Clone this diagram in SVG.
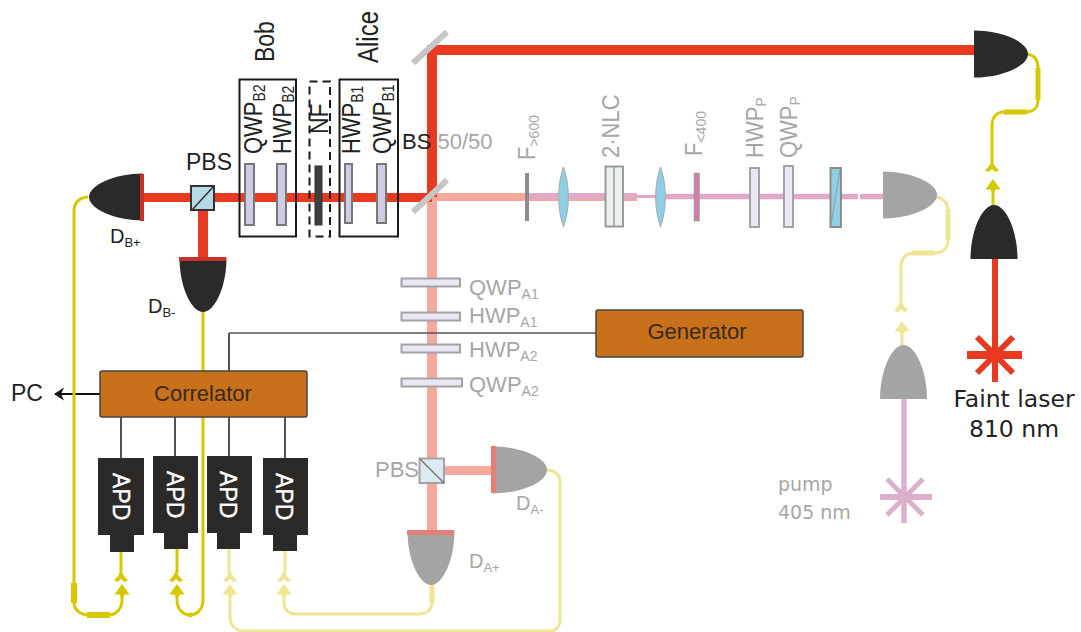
<svg xmlns="http://www.w3.org/2000/svg" width="1081" height="632" viewBox="0 0 1081 632">
<style>
text{font-family:"Liberation Sans",Arial,sans-serif;font-size:22px;fill:#222}
.g{fill:#a6a6a6}
.sub{font-size:14px}
.dv{font-family:"DejaVu Sans",Verdana,sans-serif}
.apd{fill:#fff;font-size:23px;stroke:#fff;stroke-width:.4}
.box{fill:none;stroke:#1a1a1a;stroke-width:2}
.plate{fill:#cfcce4;stroke:#777;stroke-width:2}
.pale{fill:#e9e7f4;stroke:#a3a3a3;stroke-width:2}
.blk{fill:#2b2a29}
.gry{fill:#a4a4a4}
.bar{fill:#c8701a;stroke:#444;stroke-width:1.5}
.fy,.fp{fill:none;stroke-width:3;stroke-linecap:round}
.fy{stroke:#d6c800}
.fp{stroke:#eee692}
.ty{stroke:#d6c800;stroke-width:6;fill:none}
.tp{stroke:#eee692;stroke-width:6;fill:none}
.wire{stroke:#2b2a29;stroke-width:1.6;fill:none}
.mir{stroke:#c6c6c6;stroke-width:6}
.ly{fill:#d6c800;stroke:#d6c800;stroke-width:1.200}
.lp{fill:#eee692;stroke:#eee692;stroke-width:1.200}
</style>
<defs>
<path id="det" d="M0,-23.500 C28,-23.500 54,-12 54,0 C54,12 28,23.500 0,23.500 Z"/>
<path id="chev" d="M-6,8 C-3,6 -1.500,3 0,0 C1.500,3 3,6 6,8 L3.500,9.500 L0,6 L-3.500,9.500 Z"/>
<path id="head" d="M0,0 L6.500,9 L2,9 L1.500,11 L-1.500,11 L-2,9 L-6.500,9 Z"/>
<marker id="arr" markerWidth="12" markerHeight="14" refX="9" refY="6.500" orient="auto" markerUnits="userSpaceOnUse"><path d="M0,0 L10,6.500 L0,13 L3,6.500 Z" fill="#111"/></marker>
</defs>

<g id="connectors">
<path d="M432,197V535" stroke="#f5a89c" stroke-width="10" fill="none"/>
<path d="M432,197H637" stroke="#f5a89c" stroke-width="8" fill="none"/>
<path d="M444,470.500H493" stroke="#f5a89c" stroke-width="9" fill="none"/>
<path d="M529,196H637" stroke="#e0a9c9" stroke-width="6" fill="none"/>
<path d="M637,196.500H657" stroke="#e0a9c9" stroke-width="3" fill="none"/>
<path d="M657,196.500H858M860,196.500H883" stroke="#e0a9c9" stroke-width="5.500" fill="none"/>
<path d="M904,399V523" stroke="#dcb0cc" stroke-width="5.500" fill="none"/>
<path d="M143,197.500H432" stroke="#e83a20" stroke-width="9" fill="none"/>
<path d="M203,211V258" stroke="#e83a20" stroke-width="10" fill="none"/>
<path d="M974,50H432V197" stroke="#e83a20" stroke-width="10" fill="none"/>
<path d="M995,258V382" stroke="#e83a20" stroke-width="6" fill="none"/>
<path class="wire" d="M121,417V458M175,417V456M229,417V456M285,417V458M229,371V333"/>
<path d="M229,333H596" stroke="#555" stroke-width="1.800" fill="none" opacity=".75"/>
<path d="M100,394H55" stroke="#111" stroke-width="2.200" fill="none" marker-end="url(#arr)"/>
<path class="fy" d="M87,197 C79,198 74,203 74,212 V603 C74,610 81,615 88,615 H108 C116,615 122,609 122,600 V592"/>
<path class="ty" d="M74,583V603M87,615H110"/>
<path class="fy" d="M121,552V574"/>
<use href="#chev" x="121" y="572" class="ly"/><use href="#head" x="122" y="585" class="ly"/>
<path class="fy" d="M177,549V572"/>
<use href="#chev" x="176" y="572" class="ly"/><use href="#head" x="177" y="585" class="ly"/>
<path class="fy" d="M177,592V600 C177,609 183,615 190,615 C197,615 203,609 203,600 V313"/>
<circle cx="190" cy="615" r="2.500" fill="#d6c800"/>
<path class="fp" d="M229,549V572"/>
<use href="#chev" x="230" y="572" class="lp"/><use href="#head" x="230" y="585" class="lp"/>
<path class="fp" d="M230,592V617 C230,625 236,631 243,631 H550 C556,631 560,626 560,620 V482 C560,475 555,470 547,470"/>
<path class="fp" d="M285,551V572"/>
<use href="#chev" x="284" y="572" class="lp"/><use href="#head" x="284" y="585" class="lp"/>
<path class="fp" d="M284,592V604 C284,610 289,614 296,614 H420 C427,614 432,609 432,602 V585"/>
<path class="tp" d="M432,585V603" style="stroke-width:5"/>
<path class="fy" d="M1027,54 C1034,55 1038,60 1038,68 V100 C1038,108 1033,112 1026,112 H1004 C996,112 992,118 992,126 V163"/>
<path class="ty" d="M1038,68V100M1004,112H1027" style="stroke-width:5"/>
<use href="#chev" x="992" y="162" class="ly"/><use href="#head" x="993" y="180" class="ly"/>
<path class="fy" d="M993,186V208"/>
<path class="fp" d="M936,197 C943,198 948,203 948,209 V240 C948,248 943,253 935,253 H913 C906,253 901,259 901,267 V304"/>
<path class="tp" d="M948,209V240M912,253H935" style="stroke-width:5"/>
<use href="#chev" x="901" y="302" class="lp"/><use href="#head" x="902" y="322" class="lp"/>
<path class="fp" d="M902,330V347"/>
</g>

<g id="mirrors">
<path class="mir" d="M413,63L447,32M413,212L447,180"/>
</g>

<g id="pbs-b"><rect x="191" y="186" width="23" height="24" fill="#b5d9e6" stroke="#333" stroke-width="2"/><path d="M192,210L214,186" stroke="#333" stroke-width="1.500"/><text x="186" y="170" style="font-size:23px">PBS</text></g>

<g id="det-bp"><use href="#det" transform="translate(143,197) rotate(180)" class="blk"/><rect x="140" y="174" width="4" height="47" fill="#c8302a"/><text x="110" y="243" style="font-size:20px">D<tspan class="sub" style="font-size:13px" dy="4">B+</tspan></text></g>
<g id="det-bm"><use href="#det" transform="translate(203,258) rotate(90)" class="blk"/><rect x="179" y="257" width="47" height="4" fill="#c8302a"/><text x="148" y="313" style="font-size:20px">D<tspan class="sub" style="font-size:13px" dy="4">B-</tspan></text></g>

<g id="bob">
<rect class="box" x="239.500" y="79.500" width="56.500" height="157"/>
<text transform="translate(274,62) rotate(-90) scale(1,1.200)" style="font-size:23px">Bob</text>
<rect class="plate" x="245" y="164" width="9" height="61"/><rect class="plate" x="277" y="164" width="9" height="61"/>
<text transform="translate(262,154) rotate(-90) scale(1,1.150)">QWP<tspan class="sub" dy="3">B2</tspan></text>
<text transform="translate(291,154) rotate(-90) scale(1,1.150)">HWP<tspan class="sub" dy="3">B2</tspan></text>
</g>
<g id="nf">
<rect x="309.500" y="81.500" width="20.500" height="155" fill="none" stroke="#1a1a1a" stroke-width="2" stroke-dasharray="8 5"/>
<rect x="315" y="166" width="7" height="59" fill="#3f3f3f" stroke="#333"/>
<text transform="translate(328,134) rotate(-90) scale(1,1.150)" style="font-size:23px">NF</text>
</g>
<g id="alice">
<rect class="box" x="339.500" y="79.500" width="58.500" height="157"/>
<text transform="translate(378,63) rotate(-90) scale(1,1.200)" style="font-size:24px">Alice</text>
<rect class="plate" x="345" y="164" width="7" height="59"/><rect class="plate" x="377" y="164" width="9" height="59"/>
<text transform="translate(360,154) rotate(-90) scale(1,1.150)">HWP<tspan class="sub" dy="3">B1</tspan></text>
<text transform="translate(391,154) rotate(-90) scale(1,1.150)">QWP<tspan class="sub" dy="3">B1</tspan></text>
</g>
<text id="bs-label" x="402" y="149">BS <tspan class="g">50/50</tspan></text>

<g id="pump-line">
<rect x="525" y="173" width="4" height="48" fill="#8c8c8c"/>
<path d="M563.500,167 C570,185 570,209 563.500,227 C557,209 557,185 563.500,167Z" fill="#8fcfe6" stroke="#aaa"/>
<rect x="605.500" y="166.500" width="17.500" height="60" fill="#e9f1ef" stroke="#9a9a9a" stroke-width="2"/><path d="M614,167V227" stroke="#9a9a9a" stroke-width="1.500"/>
<path d="M660.500,167 C667,185 667,209 660.500,227 C654,209 654,185 660.500,167Z" fill="#8fcfe6" stroke="#aaa"/>
<rect x="694.500" y="173.500" width="4.500" height="47" fill="#e874ae" stroke="#999" stroke-width="1.500"/>
<rect class="pale" x="750" y="168" width="9" height="59"/>
<rect class="pale" x="784" y="166" width="9" height="61"/>
<rect x="830.500" y="168" width="10.500" height="59" fill="#8fcfe6" stroke="#8c8c8c" stroke-width="2"/><path d="M840,170L831,225" stroke="#999"/>
<text class="g" transform="translate(535,160) rotate(-90) scale(1,1.100)">F<tspan class="sub g" dy="4">&gt;600</tspan></text>
<text class="g" transform="translate(619,158) rotate(-90) scale(1,1.100)">2·NLC</text>
<text class="g" transform="translate(702,156) rotate(-90) scale(1,1.100)">F<tspan class="sub g" dy="4">&lt;400</tspan></text>
<text class="g" transform="translate(763,158) rotate(-90) scale(1,1.100)">HWP<tspan class="sub g" dy="3">P</tspan></text>
<text class="g" transform="translate(797,158) rotate(-90) scale(1,1.100)">QWP<tspan class="sub g" dy="3">P</tspan></text>
</g>
<g id="det-pump"><use href="#det" transform="translate(883,195)" class="gry"/></g>

<g id="alice-arm">
<rect class="pale" x="401.500" y="278.500" width="58.500" height="8"/>
<rect class="pale" x="401.500" y="312.500" width="58.500" height="8"/>
<rect class="pale" x="401.500" y="344.500" width="58.500" height="8"/>
<rect class="pale" x="401.500" y="378.500" width="60.500" height="8"/>
<text class="g" x="469" y="295">QWP<tspan class="sub g" dy="4">A1</tspan></text>
<text class="g" x="469" y="323">HWP<tspan class="sub g" dy="4">A1</tspan></text>
<text class="g" x="469" y="357">HWP<tspan class="sub g" dy="4">A2</tspan></text>
<text class="g" x="469" y="392">QWP<tspan class="sub g" dy="4">A2</tspan></text>
</g>
<g id="pbs-a"><rect x="419.500" y="458.500" width="24.500" height="24.500" fill="#dcebf3" stroke="#a3a3a3" stroke-width="2"/><path d="M420,459L444,483" stroke="#777" stroke-width="1.500"/><text class="g" x="375" y="477">PBS</text></g>
<g id="det-am"><use href="#det" transform="translate(493,470)" class="gry"/><rect x="491" y="446" width="5" height="47" fill="#e27f78"/><text class="g" x="516" y="510" style="font-size:20px">D<tspan class="sub g" style="font-size:13px" dy="4">A-</tspan></text></g>
<g id="det-ap"><use href="#det" transform="translate(431,531) rotate(90)" class="gry"/><rect x="407" y="530" width="47" height="5" fill="#e27f78"/><text class="g" x="469" y="568" style="font-size:20px">D<tspan class="sub g" style="font-size:13px" dy="4">A+</tspan></text></g>

<g id="generator"><rect class="bar" x="596" y="310" width="207" height="47" rx="2"/><text x="697" y="339" text-anchor="middle" style="font-size:22px;fill:#3a2a1a">Generator</text></g>
<g id="correlator"><rect class="bar" x="100" y="371" width="207" height="46" rx="2"/><text x="203" y="401" text-anchor="middle" style="font-size:22px;fill:#3a2a1a">Correlator</text></g>
<text id="pc" x="11" y="401" style="font-size:23px">PC</text>

<g id="apd1"><path class="blk" d="M98,458H144V535H134V552H110V535H98Z"/><text class="apd" transform="translate(113,473) rotate(90)">APD</text></g>
<g id="apd2"><path class="blk" d="M153,456H198V533H188V549H164V533H153Z"/><text class="apd" transform="translate(167,471) rotate(90)">APD</text></g>
<g id="apd3"><path class="blk" d="M207,456H252V533H240V549H217V533H207Z"/><text class="apd" transform="translate(220,471) rotate(90)">APD</text></g>
<g id="apd4"><path class="blk" d="M263,458H308V535H297V551H273V535H263Z"/><text class="apd" transform="translate(276,473) rotate(90)">APD</text></g>

<g id="det-top"><use href="#det" transform="translate(974,54)" class="blk"/></g>
<g id="det-laser"><use href="#det" transform="translate(994,259) rotate(-90)" class="blk"/></g>
<g id="det-pump2"><use href="#det" transform="translate(903.500,399) rotate(-90)" class="gry"/></g>

<g id="laser"><path d="M967,355H1022" stroke="#e83a20" stroke-width="8"/><path d="M977,337L1013,373M977,373L1013,337" stroke="#e83a20" stroke-width="6"/><text class="dv" x="1014" y="407" text-anchor="middle" style="font-size:23.500px">Faint laser</text><text class="dv" x="1014" y="437" text-anchor="middle" style="font-size:23.500px">810 nm</text></g>
<g id="pump"><path d="M880,497H932" stroke="#dcb0cc" stroke-width="6"/><path d="M887,479L923,515M887,515L923,479" stroke="#dcb0cc" stroke-width="5"/><text class="dv g" x="778" y="491" style="font-size:19px">pump</text><text class="dv g" x="778" y="519" style="font-size:19px">405 nm</text></g>
</svg>
